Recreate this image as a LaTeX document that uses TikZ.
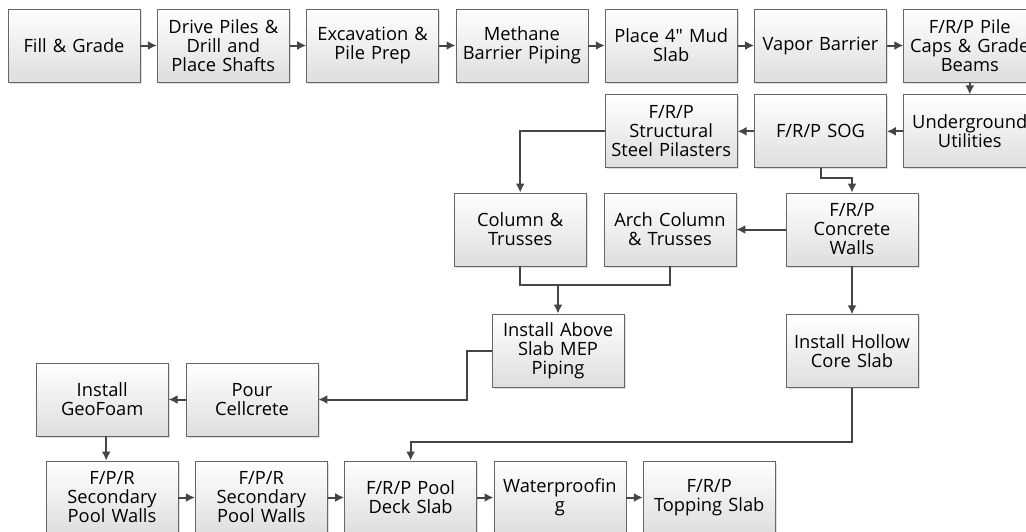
\documentclass[tikz,border=0pt]{standalone}
\usepackage{fontspec}
\setmainfont{Open Sans}
\usetikzlibrary{positioning}
\usetikzlibrary{shadows,arrows.meta}
\definecolor{boxline}{rgb}{0.40, 0.40, 0.40}
\definecolor{arrowgray}{rgb}{0.27, 0.27, 0.27}
\hyphenpenalty=10000
\tikzset{
  task/.style = {rectangle, draw = boxline, line width = 0.8pt,
    top color = white, bottom color = black!13,
    drop shadow = {shadow xshift = 1.5pt, shadow yshift = -1.5pt, opacity = 0.25},
    minimum width = 132pt, minimum height = 73pt,
    text width = 122pt, inner xsep = 5pt, inner ysep = 0pt, align = center,
    font = \fontsize{18.3}{19}\selectfont},
  flow/.style = {-{Latex[length=9pt, width=9pt]}, draw = arrowgray, line width = 2pt},
  link/.style = {draw = arrowgray, line width = 2pt}
}

\begin{document}
\begin{tikzpicture}[x=1pt, y=1pt]
    \useasboundingbox[fill = white] (0,0) rectangle (1026,-531);

    \node(fill) [task] at (74,-45.5) {Fill \& Grade};
    \node(drive) [task, right=16.5pt of fill] {Drive Piles \&\\Drill and\\Place Shafts};
    \node(exc) [task, right=16.5pt of drive] {Excavation \&\\Pile Prep};
    \node(meth) [task, right=16.5pt of exc] {Methane\\Barrier~Piping};
    \node(place) [task, right=16.5pt of meth] {Place 4\textquotedbl{} Mud\\Slab};
    \node(vapor) [task, right=16.5pt of place] {Vapor Barrier};
    \node(pile) [task, right=16.5pt of vapor] {F/R/P Pile\\Caps~\&~Grade\\Beams};

    \node(util) [task, below=12pt of pile] {Underground\\Utilities};
    \node(sog) [task, left=16.5pt of util] {F/R/P SOG};
    \node(struct) [task, left=16.5pt of sog] {F/R/P\\Structural\\Steel~Pilasters};

    \node(walls) [task] at (852,-229.5) {F/R/P\\Concrete\\Walls};
    \node(arch) [task] at (670,-229.5) {Arch Column\\\& Trusses};
    \node(col) [task, left=17pt of arch] {Column \&\\Trusses};

    \node(hollow) [task, below=48pt of walls] {Install Hollow\\Core Slab};
    \node(above) [task] at (558,-350.5) {Install Above\\Slab MEP\\Piping};

    \node(pour) [task] at (252,-399.5) {Pour\\Cellcrete};
    \node(geo) [task, left=17pt of pour] {Install\\GeoFoam};

    \node(sec1) [task] at (112,-497.5) {F/P/R\\Secondary\\Pool Walls};
    \node(sec2) [task, right=16.5pt of sec1] {F/P/R\\Secondary\\Pool Walls};
    \node(deck) [task, right=16.5pt of sec2] {F/R/P Pool\\Deck Slab};
    \node(water) [task, right=16.5pt of deck] {Waterproofin\\g};
    \node(top) [task, right=16.5pt of water] {F/R/P\\Topping Slab};

    \coordinate(join) at ([yshift=-19pt] col.south);

    \draw[flow] (fill) -- (drive);
    \draw[flow] (drive) -- (exc);
    \draw[flow] (exc) -- (meth);
    \draw[flow] (meth) -- (place);
    \draw[flow] (place) -- (vapor);
    \draw[flow] (vapor) -- (pile);

    \draw[flow] (pile) -- (util);
    \draw[flow] (util) -- (sog);
    \draw[flow] (sog) -- (struct);
    \draw[flow] (struct.west) -| (col.north);
    \draw[flow] (sog.south) -- ++(0,-10) -| (walls.north);

    \draw[flow] (walls) -- (arch);
    \draw[flow] (walls) -- (hollow);
    \draw[link] (col.south) -- (join) -| (arch.south);
    \draw[flow] (above.north |- join) -- (above.north);

    \draw[flow] (above.west) -- ++(-25,0) |- (pour.east);
    \draw[flow] (pour) -- (geo);
    \draw[flow] ([xshift=4pt] geo.south) -- ([xshift=4pt] geo.south |- sec1.north);
    \draw[flow] (hollow.south) -- ++(0,-54) -| (deck.north);

    \draw[flow] (sec1) -- (sec2);
    \draw[flow] (sec2) -- (deck);
    \draw[flow] (deck) -- (water);
    \draw[flow] (water) -- (top);
    % \draw[help lines, step=50] (0,-531) grid (1026,0);
  \end{tikzpicture}
\end{document}
